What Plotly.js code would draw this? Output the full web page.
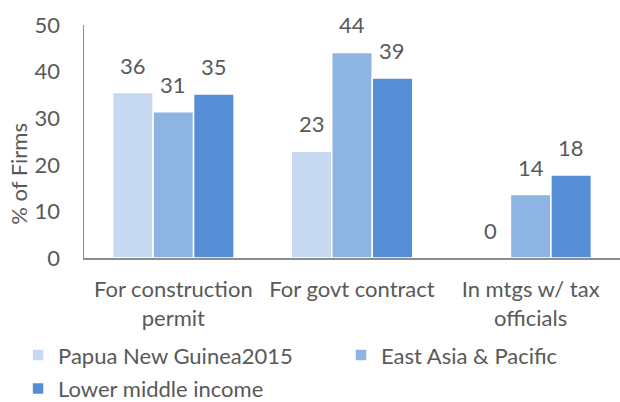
<!DOCTYPE html>
<html>
<head>
<meta charset="utf-8">
<script src="https://cdn.plot.ly/plotly-3.0.1.min.js"></script>
<style>html,body{margin:0;padding:0;background:#fff;}#chart{width:620px;height:402px;}</style>
</head>
<body>
<div id="chart"></div>
<script>
const categories = ["For construction<br>permit", "For govt contract", "In mtgs w/ tax<br>officials"];
const seriesNames = ["Papua New Guinea2015", "East Asia & Pacific", "Lower middle income"];
const png2015 = [35.5, 22.9, 0];
const eastAsiaPacific = [31.4, 44.1, 13.6];
const lowerMiddleIncome = [35.2, 38.6, 17.8];
const yTicks = [0, 10, 20, 30, 40, 50];
const colors = ["#c6d9f1", "#8eb4e3", "#558ed5"];

const FONT = "Lato, 'Open Sans', sans-serif";
const FS = 22;
const TXT = "#595959";
const seriesValues = [png2015, eastAsiaPacific, lowerMiddleIncome];

const W = 620, H = 402;
const M = {l: 84, r: 0, t: 25, b: 144};
const BARGAP = 0.32;
const plotW = W - M.l - M.r;
const barPx = (plotW / categories.length) * (1 - BARGAP) / seriesValues.length;

const legendFor = ["legend", "legend2", "legend"];
const traces = seriesValues.map((vals, i) => ({
  type: "bar",
  name: seriesNames[i],
  x: categories,
  y: vals,
  legend: legendFor[i],
  legendgroup: "g" + i,
  marker: {color: colors[i], line: {color: "#ffffff", width: 1.5}},
  hoverinfo: "skip"
}));

const annotations = [];
seriesValues.forEach((vals, i) => {
  vals.forEach((v, c) => {
    annotations.push({
      x: categories[c], y: v, xref: "x", yref: "y",
      text: String(Math.round(v)),
      showarrow: false,
      xanchor: "center", yanchor: "bottom",
      xshift: (i - (seriesValues.length - 1) / 2) * barPx,
      yshift: 12,
      font: {family: FONT, size: FS, color: TXT}
    });
  });
});
annotations.push({
  text: "% of Firms",
  xref: "paper", yref: "paper",
  x: -0.121, y: 0.362,
  xanchor: "center", yanchor: "middle",
  textangle: -90, showarrow: false,
  font: {family: FONT, size: FS, color: TXT}
});

const legendCommon = {
  orientation: "v",
  yanchor: "top",
  xanchor: "left",
  font: {family: FONT, size: FS, color: TXT},
  tracegroupgap: 2,
  bgcolor: "rgba(0,0,0,0)"
};

const layout = {
  width: W, height: H,
  margin: Object.assign({autoexpand: false}, M),
  paper_bgcolor: "#ffffff", plot_bgcolor: "#ffffff",
  font: {family: FONT, size: FS, color: TXT},
  barmode: "group",
  bargap: BARGAP,
  bargroupgap: 0,
  showlegend: true,
  legend: Object.assign({x: -0.123, y: -0.327}, legendCommon),
  legend2: Object.assign({x: 0.4795, y: -0.327}, legendCommon),
  xaxis: {
    type: "category",
    showline: true, linecolor: "#8c8c8c", linewidth: 2,
    ticks: "", showgrid: false, zeroline: false,
    tickfont: {family: FONT, size: FS, color: TXT},
    ticklabelstandoff: 11,
    fixedrange: true
  },
  yaxis: {
    range: [0, 50],
    tickvals: yTicks,
    ticktext: yTicks.map(String),
    showline: true, linecolor: "#8c8c8c", linewidth: 1.5,
    ticks: "", showgrid: false, zeroline: false,
    tickfont: {family: FONT, size: FS, color: TXT},
    ticklabelstandoff: 18,
    fixedrange: true
  },
  annotations: annotations
};

Plotly.newPlot("chart", traces, layout, {displayModeBar: false, staticPlot: true});
</script>
</body>
</html>
